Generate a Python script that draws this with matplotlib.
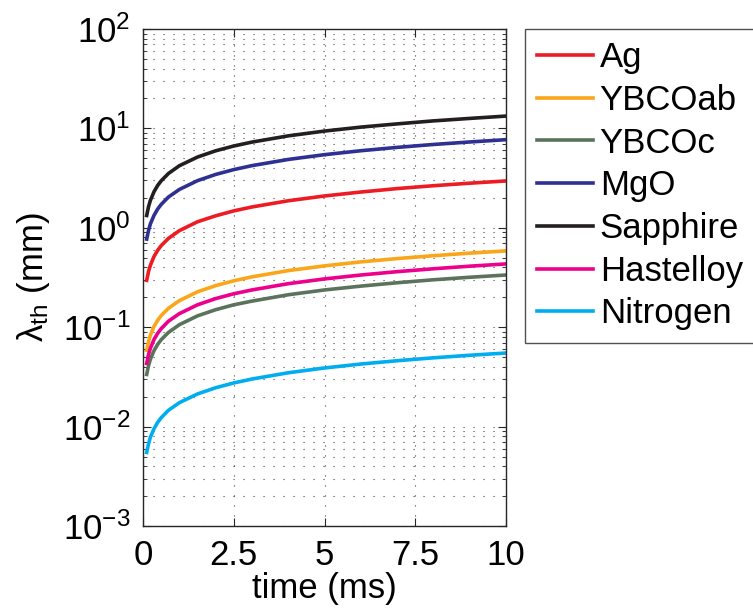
import numpy as np
import matplotlib
matplotlib.use('Agg')
import matplotlib.pyplot as plt

plt.rcParams['font.family'] = ['Liberation Sans', 'DejaVu Sans']
plt.rcParams['mathtext.fontset'] = 'custom'
plt.rcParams['mathtext.rm'] = 'Liberation Sans'
plt.rcParams['mathtext.it'] = 'Liberation Sans:italic'

# time in ms
t = [0.1, 0.15, 0.2, 0.3, 0.4, 0.5, 0.7, 1.0, 1.5, 2.0, 2.5, 3.0, 4.0, 5.0, 6.0, 7.0, 8.0, 9.0, 10.0]

# thermal length (mm)
ag = [0.296, 0.363, 0.419, 0.513, 0.592, 0.662, 0.783, 0.936, 1.15, 1.32, 1.48, 1.62, 1.87, 2.09, 2.29, 2.48, 2.65, 2.81, 2.96]
ybco_ab = [0.0586, 0.0718, 0.0829, 0.1015, 0.117, 0.131, 0.155, 0.185, 0.227, 0.262, 0.293, 0.321, 0.371, 0.414, 0.454, 0.490, 0.524, 0.556, 0.586]
ybco_c = [0.0335, 0.0410, 0.0474, 0.0580, 0.0670, 0.0749, 0.0886, 0.106, 0.130, 0.150, 0.168, 0.183, 0.212, 0.237, 0.259, 0.280, 0.300, 0.318, 0.335]
mgo = [0.77, 0.94, 1.09, 1.33, 1.54, 1.72, 2.04, 2.43, 2.98, 3.44, 3.85, 4.22, 4.87, 5.44, 5.96, 6.44, 6.89, 7.30, 7.70]
sapphire = [1.33, 1.63, 1.88, 2.30, 2.66, 2.97, 3.52, 4.21, 5.15, 5.95, 6.65, 7.28, 8.41, 9.40, 10.3, 11.1, 11.9, 12.6, 13.3]
hastelloy = [0.0433, 0.0530, 0.0612, 0.0750, 0.0866, 0.0968, 0.115, 0.137, 0.168, 0.194, 0.217, 0.237, 0.274, 0.306, 0.335, 0.362, 0.387, 0.411, 0.433]
nitrogen = [0.0055, 0.0067, 0.0078, 0.0095, 0.0110, 0.0123, 0.0146, 0.0174, 0.0213, 0.0246, 0.0275, 0.0301, 0.0348, 0.0389, 0.0426, 0.0460, 0.0492, 0.0522, 0.055]

names = ['Ag', 'YBCOab', 'YBCOc', 'MgO', 'Sapphire', 'Hastelloy', 'Nitrogen']
series = [ag, ybco_ab, ybco_c, mgo, sapphire, hastelloy, nitrogen]
colors = ['#ED1C24', '#FAA61A', '#5B735B', '#2E3192', '#231F20', '#EC008C', '#00AEEF']

fig = plt.figure(figsize=(7.53, 6.14), dpi=100)
ax = fig.add_axes([0.19, 0.1433, 0.482, 0.8095])

for y, name, c in zip(series, names, colors):
    ax.plot(t, y, color=c, lw=2.6, label=name)

ax.set_yscale('log')
ax.set_xlim(0, 10)
ax.set_ylim(1e-3, 1e2)
ax.set_xticks([0, 2.5, 5, 7.5, 10])
ax.set_xticklabels(['0', '2.5', '5', '7.5', '10'])

# matlab-ish sparse dotted grid
ax.grid(True, which='major', linestyle=(0, (1, 8)), color='#444444', lw=0.8)
ax.grid(True, which='minor', axis='y', linestyle=(0, (1, 8)), color='#444444', lw=0.8)

ax.tick_params(which='both', direction='in', top=True, right=True, labelsize=25, pad=9, color='#262626')
ax.tick_params(which='major', length=6, width=0.8)
ax.tick_params(which='minor', length=3, width=0.6)
ax.tick_params(axis='x', which='minor', bottom=False, top=False)
for s in ax.spines.values():
    s.set_linewidth(1.0)
    s.set_color('#262626')

ax.set_xlabel('time (ms)', fontsize=25, labelpad=0)
ax.set_ylabel('λ$_{\\mathrm{th}}$ (mm)', fontsize=25, labelpad=8)

leg = ax.legend(loc='upper left', bbox_to_anchor=(525 / 753, 1 - 29 / 614), bbox_transform=fig.transFigure,
                fontsize=25, frameon=True, fancybox=False, edgecolor='#262626', handlelength=1.6,
                handletextpad=0.2, labelspacing=0.28, borderpad=0.35, borderaxespad=0)
leg.get_frame().set_linewidth(1.0)

plt.savefig('out.png', dpi=100)
